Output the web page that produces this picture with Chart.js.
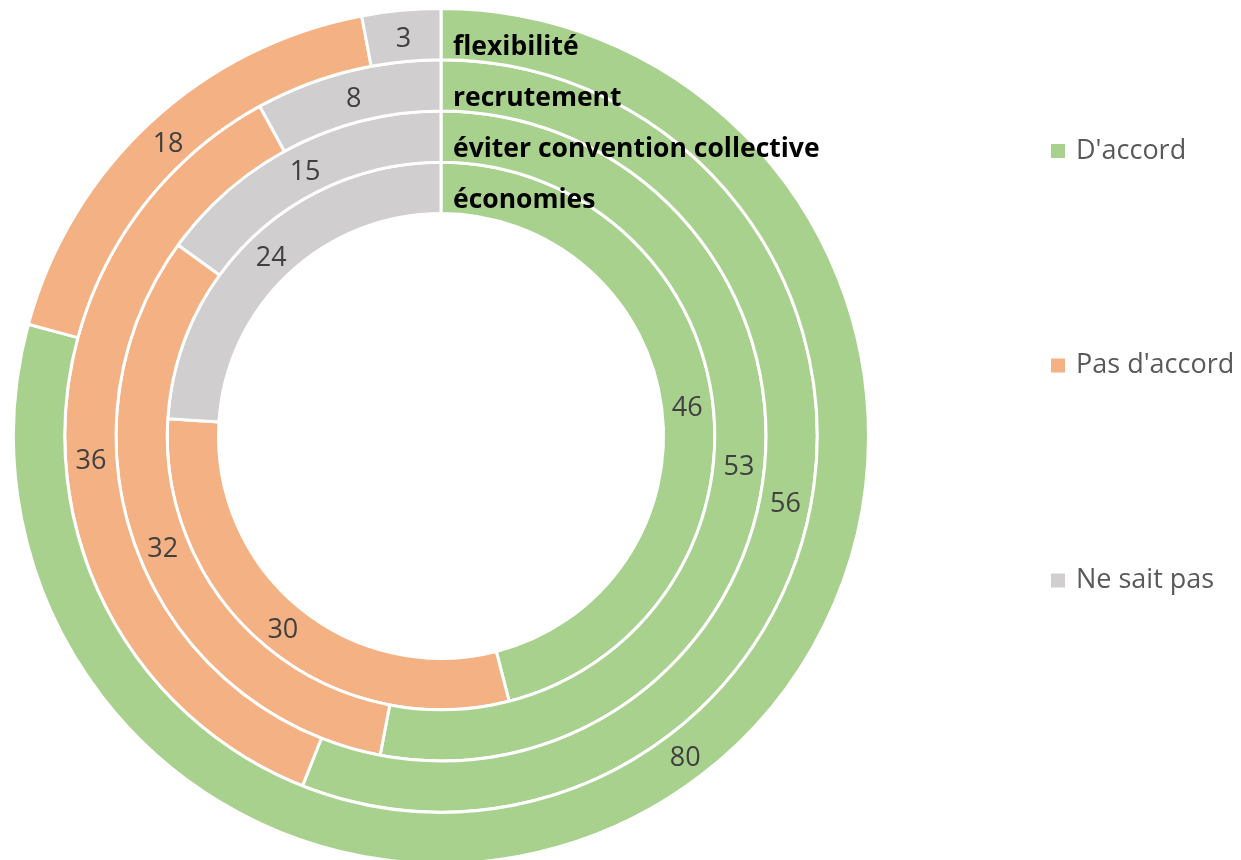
<!DOCTYPE html>
<html>
<head>
<meta charset="utf-8">
<script src="https://cdn.jsdelivr.net/npm/chart.js@4/dist/chart.umd.min.js"></script>
<style>
  html, body { margin: 0; padding: 0; background: #ffffff; }
  #wrap { width: 1241px; height: 860px; position: relative; }
</style>
</head>
<body>
<div id="wrap"><canvas id="c"></canvas></div>
<script>
// ---- data ----
const categories = ["D'accord", "Pas d'accord", "Ne sait pas"];
const ringLabels = ["flexibilité", "recrutement", "éviter convention collective", "économies"];
const flexibilite = [80, 18, 3];
const recrutement = [56, 36, 8];
const eviterConvention = [53, 32, 15];
const economies = [46, 30, 24];
const colors = ["#A9D18E", "#F4B183", "#D0CECE"];

const ringData = [flexibilite, recrutement, eviterConvention, economies];

const labelsPlugin = {
  id: 'ringLabels',
  afterDatasetsDraw(chart) {
    const ctx = chart.ctx;
    ctx.save();
    // value labels
    ctx.font = '27px "Open Sans", sans-serif';
    ctx.fillStyle = '#404040';
    ctx.textAlign = 'center';
    ctx.textBaseline = 'middle';
    chart.data.datasets.forEach((ds, i) => {
      const meta = chart.getDatasetMeta(i);
      meta.data.forEach((arc, j) => {
        const p = arc.tooltipPosition();
        ctx.fillText(String(ds.data[j]), p.x, p.y + 3);
      });
    });
    // ring category labels
    ctx.font = 'bold 26.5px "Open Sans", sans-serif';
    ctx.fillStyle = '#000000';
    ctx.textAlign = 'left';
    ctx.textBaseline = 'alphabetic';
    chart.data.datasets.forEach((ds, i) => {
      const meta = chart.getDatasetMeta(i);
      const arc = meta.data[0];
      ctx.fillText(ds.label, arc.x + 12, arc.y - arc.outerRadius + 46);
    });
    // legend
    const legendY = [151, 365.5, 580.5];
    ctx.font = '27px "Open Sans", sans-serif';
    ctx.textBaseline = 'middle';
    categories.forEach((c, k) => {
      ctx.fillStyle = colors[k];
      ctx.fillRect(1051, legendY[k] - 7, 14, 14);
      ctx.fillStyle = '#595959';
      ctx.fillText(c, 1076, legendY[k]);
    });
    ctx.restore();
  }
};

new Chart(document.getElementById('c'), {
  type: 'doughnut',
  data: {
    labels: categories,
    datasets: ringData.map((d, i) => ({
      label: ringLabels[i],
      data: d,
      backgroundColor: colors,
      borderColor: '#ffffff',
      borderWidth: 3
    }))
  },
  options: {
    responsive: true,
    maintainAspectRatio: false,
    animation: false,
    radius: 427.5,
    cutout: '52.05%',
    layout: { padding: { left: 0, right: 359, top: 12, bottom: 0 } },
    plugins: {
      legend: { display: false },
      tooltip: { enabled: false }
    }
  },
  plugins: [labelsPlugin]
});
</script>
</body>
</html>
